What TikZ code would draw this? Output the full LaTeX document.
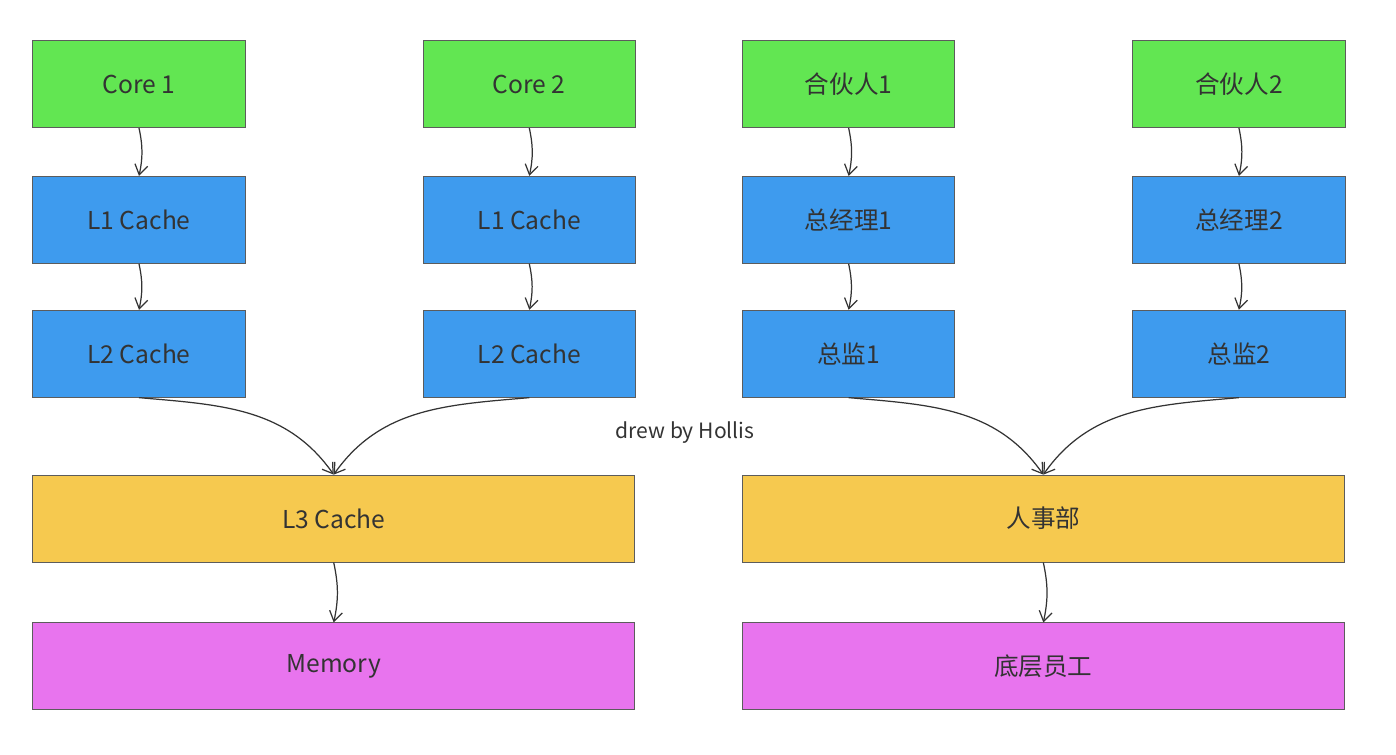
\documentclass[tikz,border=0pt]{standalone}
\usepackage{fontspec}
\setmainfont{Noto Sans CJK SC}
\usepackage{xcolor}
\usepackage{tikz}
\usetikzlibrary{arrows.meta,positioning,calc}
\definecolor{CoreGreen}{HTML}{62E652}
\definecolor{CacheBlue}{HTML}{3E9BEE}
\definecolor{ShareYellow}{HTML}{F6C94F}
\definecolor{MemPink}{HTML}{E874EE}
\definecolor{Ink}{HTML}{333333}

\begin{document}
\begin{tikzpicture}[
    x=0.02cm,y=-0.02cm,
    box/.style={rectangle,draw=Ink!80,line width=0.5pt,minimum width=4.25cm,minimum height=1.74cm,align=center,font=\fontsize{14}{16}\selectfont,text=Ink},
    wide/.style={box,minimum width=12.04cm},
    arrow/.style={-{Straight Barb[length=2mm,width=2.6mm]},line width=0.7pt,draw=Ink}
]
\useasboundingbox (0,0) rectangle (1396,754);
% left column: cpu
\node[box,fill=CoreGreen] (c1) at (139,84) {Core 1};
\node[box,fill=CacheBlue,below=0.96cm of c1] (l1a) {L1 Cache};
\node[box,fill=CacheBlue,below=0.92cm of l1a] (l2a) {L2 Cache};
\node[box,fill=CoreGreen,right=3.54cm of c1] (c2) {Core 2};
\node[box,fill=CacheBlue,below=0.96cm of c2] (l1b) {L1 Cache};
\node[box,fill=CacheBlue,below=0.92cm of l1b] (l2b) {L2 Cache};
\node[wide,fill=ShareYellow,below=1.54cm of l2a.south west,anchor=north west] (l3) {L3 Cache};
\node[wide,fill=MemPink,below=1.2cm of l3] (mem) {Memory};
% right column: company
\node[box,fill=CoreGreen,right=2.12cm of c2] (p1) {合伙人1};
\node[box,fill=CacheBlue,below=0.96cm of p1] (g1) {总经理1};
\node[box,fill=CacheBlue,below=0.92cm of g1] (d1) {总监1};
\node[box,fill=CoreGreen,right=3.54cm of p1] (p2) {合伙人2};
\node[box,fill=CacheBlue,below=0.96cm of p2] (g2) {总经理2};
\node[box,fill=CacheBlue,below=0.92cm of g2] (d2) {总监2};
\node[wide,fill=ShareYellow,below=1.54cm of d1.south west,anchor=north west] (hr) {人事部};
\node[wide,fill=MemPink,below=1.2cm of hr] (staff) {底层员工};
\node[font=\fontsize{12}{14}\selectfont,text=Ink] (sig) at (685,433) {drew by Hollis};
% connectors
\draw[arrow] (c1.south) to[bend left=12] (l1a.north);
\draw[arrow] (l1a.south) to[bend left=12] (l2a.north);
\draw[arrow] (c2.south) to[bend left=12] (l1b.north);
\draw[arrow] (l1b.south) to[bend left=12] (l2b.north);
\draw[arrow] (l2a.south) to[out=-5,in=125] (l3.north);
\draw[arrow] (l2b.south) to[out=185,in=55] (l3.north);
\draw[arrow] (l3.south) to[bend left=12] (mem.north);
\draw[arrow] (p1.south) to[bend left=12] (g1.north);
\draw[arrow] (g1.south) to[bend left=12] (d1.north);
\draw[arrow] (p2.south) to[bend left=12] (g2.north);
\draw[arrow] (g2.south) to[bend left=12] (d2.north);
\draw[arrow] (d1.south) to[out=-5,in=125] (hr.north);
\draw[arrow] (d2.south) to[out=185,in=55] (hr.north);
\draw[arrow] (hr.south) to[bend left=12] (staff.north);
\end{tikzpicture}
\end{document}
